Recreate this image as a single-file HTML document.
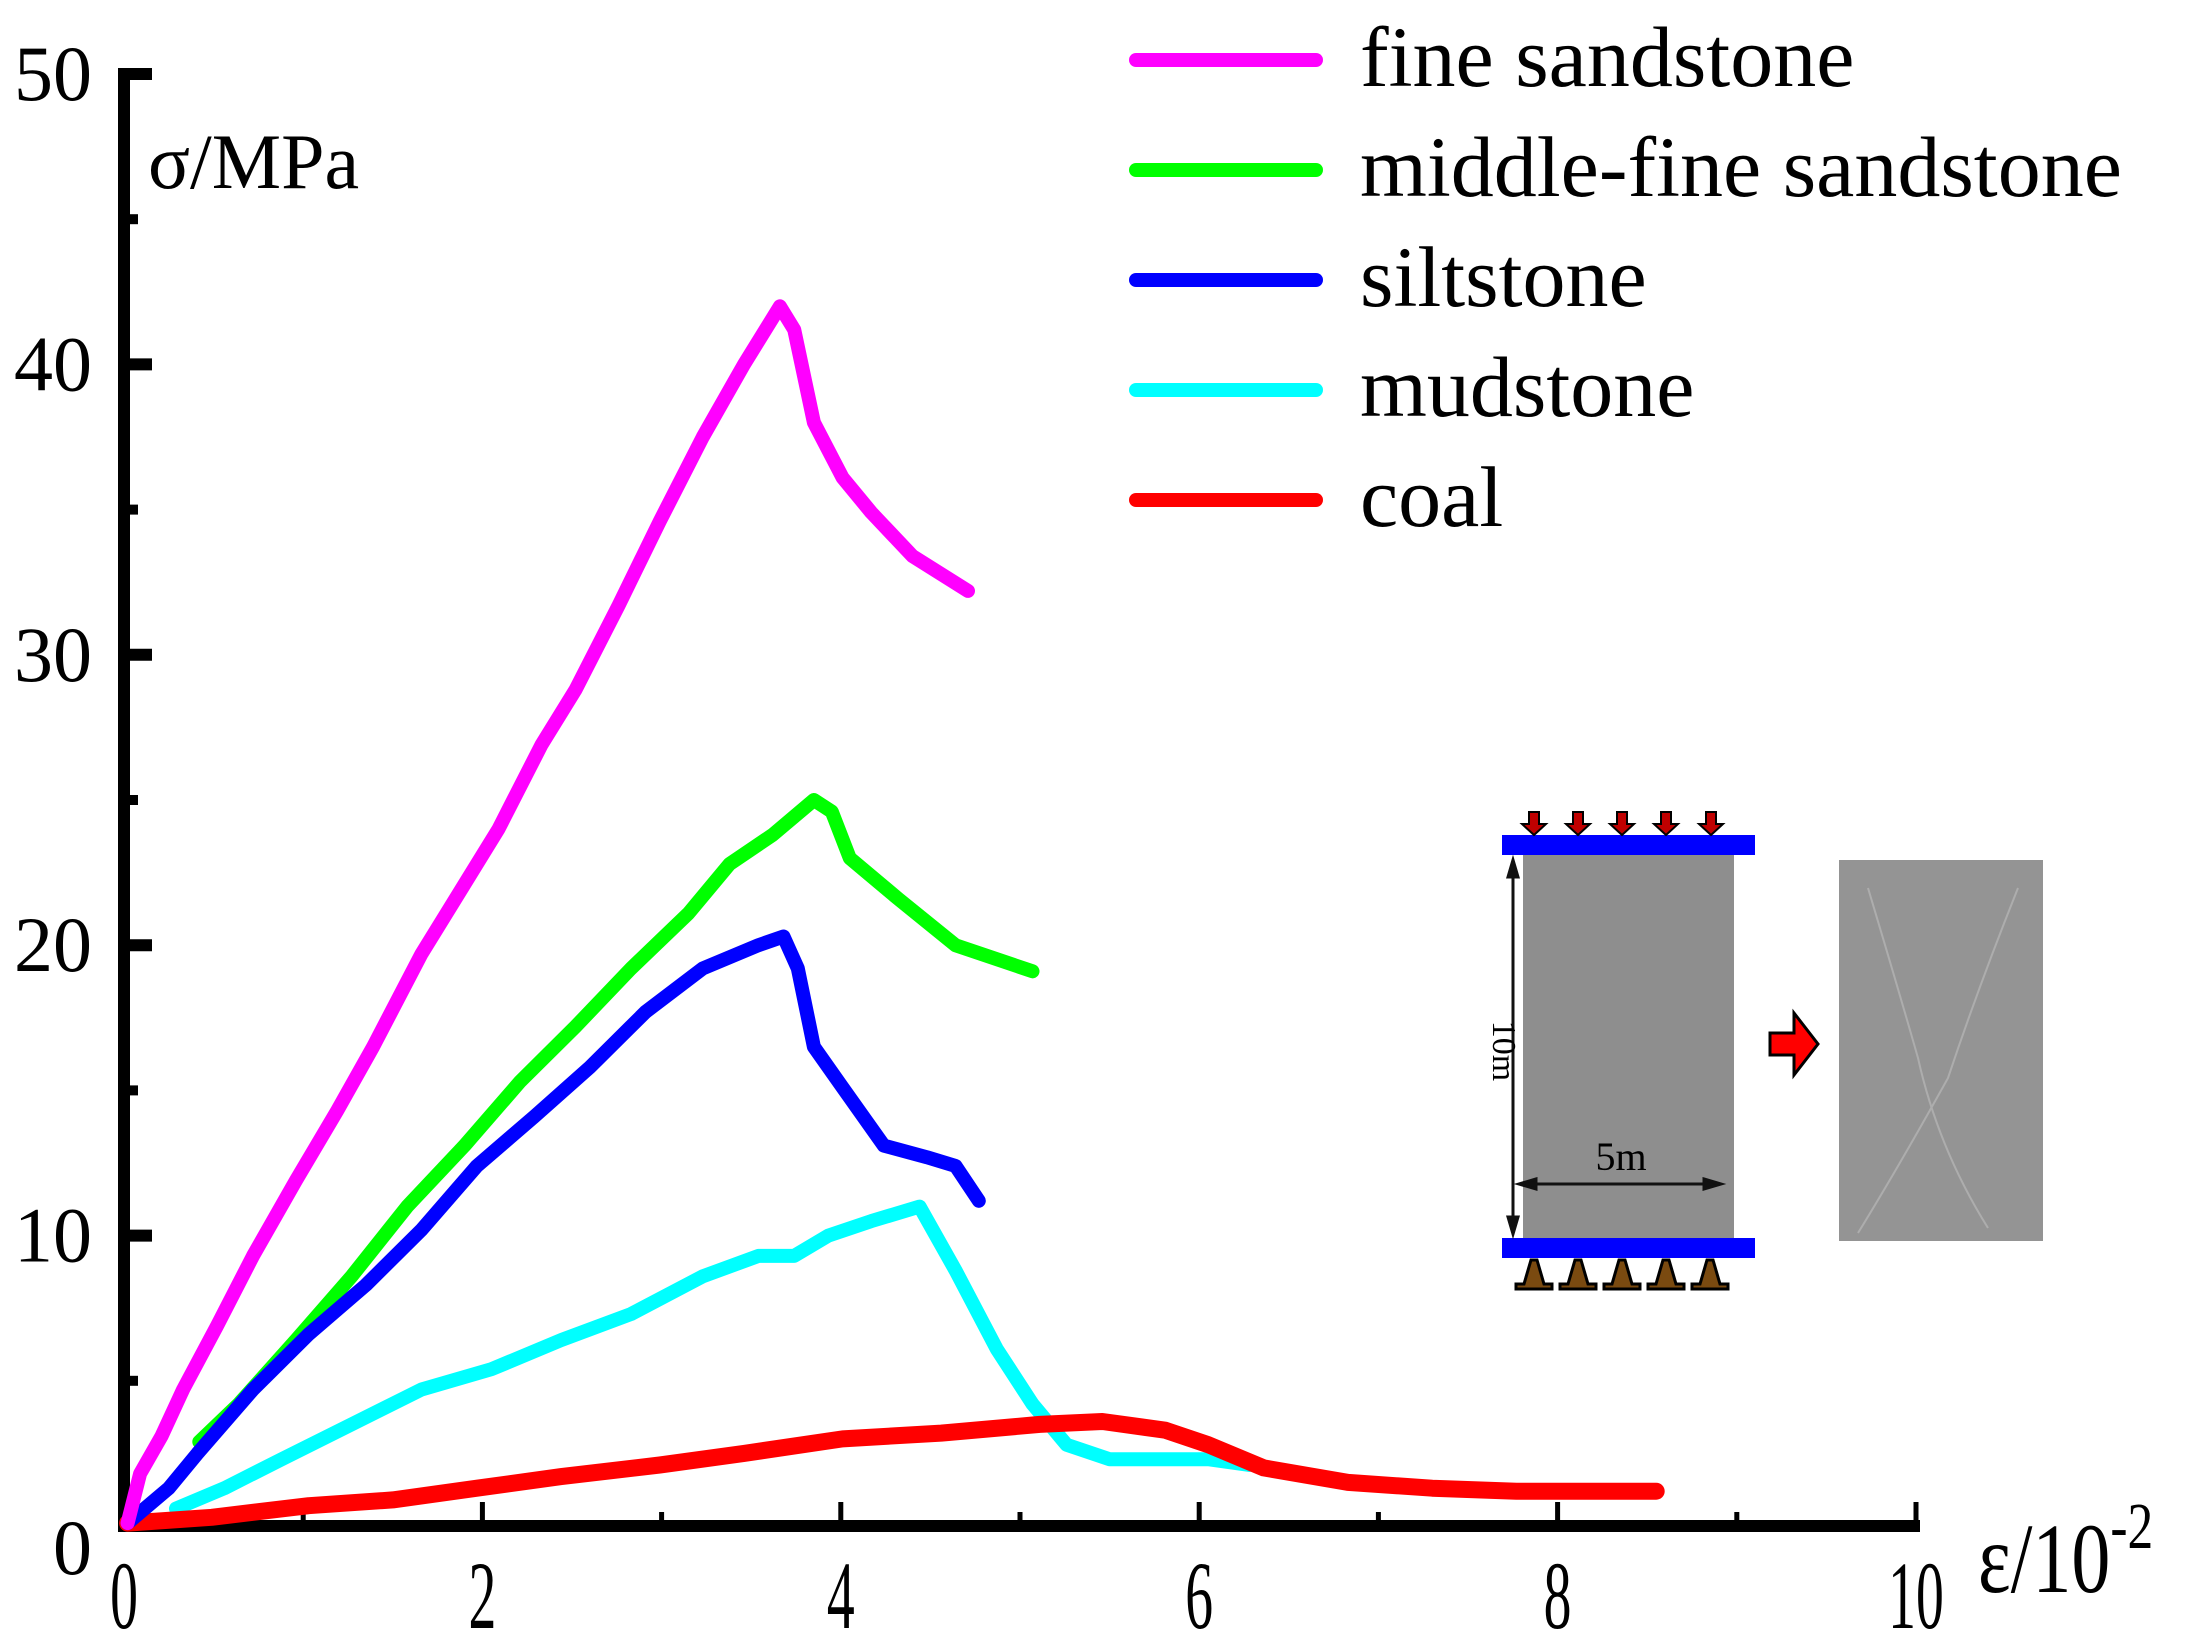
<!DOCTYPE html>
<html><head><meta charset="utf-8"><style>
html,body{margin:0;padding:0;background:#fff;}
svg{display:block;}
text{font-family:"Liberation Serif",serif;fill:#000;}
</style></head><body>
<svg id="chart" width="2190" height="1644" viewBox="0 0 2190 1644" xmlns="http://www.w3.org/2000/svg">
<g id="axes"></g>
<g id="series"></g>
<g id="legend"></g>
<text x="148" y="188" font-size="78">σ/MPa</text>
<text font-size="100" transform="translate(1978 1592) scale(0.78 1)">ε/10<tspan font-size="66" dy="-44">-2</tspan></text>
<g transform="translate(-7 -2)">
  <rect x="1530" y="857" width="211" height="383" fill="#8e8e8e"/>
  <rect x="1509" y="837" width="253" height="20" fill="#0000ff"/>
  <rect x="1509" y="1240" width="253" height="20" fill="#0000ff"/>
  <g fill="#c00000" stroke="#000" stroke-width="2">
    <path d="M1536 814h10v12h7l-12 11l-12-11h7z"/>
    <path d="M1580 814h10v12h7l-12 11l-12-11h7z"/>
    <path d="M1624 814h10v12h7l-12 11l-12-11h7z"/>
    <path d="M1668 814h10v12h7l-12 11l-12-11h7z"/>
    <path d="M1713 814h10v12h7l-12 11l-12-11h7z"/>
  </g>
  <g fill="#7a4a10" stroke="#000" stroke-width="3">
    <path d="M1538 1262h6l7 24h8v5h-36v-5h8z"/>
    <path d="M1582 1262h6l7 24h8v5h-36v-5h8z"/>
    <path d="M1626 1262h6l7 24h8v5h-36v-5h8z"/>
    <path d="M1670 1262h6l7 24h8v5h-36v-5h8z"/>
    <path d="M1714 1262h6l7 24h8v5h-36v-5h8z"/>
  </g>
  <g stroke="#111" stroke-width="3" fill="#111">
    <line x1="1520" y1="862" x2="1520" y2="1236"/>
    <path d="M1515 879l5-17l5 17z"/><path d="M1515 1219l5 17l5-17z"/>
    <line x1="1526" y1="1186" x2="1728" y2="1186"/>
    <path d="M1543 1181l-17 5l17 5z"/><path d="M1711 1181l17 5l-17 5z"/>
  </g>
  <text font-size="34" transform="translate(1500 1053) rotate(90)" text-anchor="middle" fill="#222">10m</text>
  <text x="1628" y="1172" font-size="40" text-anchor="middle" fill="#222">5m</text>
  <path d="M1777 1035h24v-20l24 31l-24 31v-20h-24z" fill="#ff0000" stroke="#000" stroke-width="3"/>
  <rect x="1846" y="862" width="204" height="381" fill="#949494"/>
  <g stroke="#b8b8b8" stroke-width="2" fill="none" opacity="0.7">
    <path d="M1875 890 Q1905 990 1925 1060 Q1945 1150 1995 1230"/>
    <path d="M2025 890 Q1985 990 1955 1080 Q1905 1170 1865 1235"/>
  </g>
</g>
<script>
const xTicks=[0,2,4,6,8,10];
const xMinor=[1,3,5,7,9];
const yTicks=[0,10,20,30,40,50];
const yMinor=[5,15,25,35,45];
const seriesNames=["fine sandstone","middle-fine sandstone","siltstone","mudstone","coal"];
const seriesColors=["#ff00ff","#00ff00","#0000ff","#00ffff","#ff0000"];
const fineX=[0.02,0.09,0.21,0.33,0.52,0.72,0.96,1.19,1.39,1.66,1.90,2.09,2.33,2.52,2.76,2.99,3.23,3.46,3.66,3.74,3.85,4.01,4.17,4.40,4.71];
const fineY=[0.1,1.8,3.1,4.7,6.9,9.3,11.9,14.3,16.5,19.7,22.1,24.0,26.9,28.8,31.7,34.6,37.5,40.0,42.0,41.2,38.0,36.1,34.9,33.4,32.2];
const midX=[0.42,0.64,0.96,1.27,1.58,1.90,2.21,2.52,2.83,3.15,3.38,3.62,3.85,3.95,4.05,4.32,4.64,5.07];
const midY=[2.9,4.2,6.4,8.6,11.0,13.1,15.3,17.2,19.2,21.1,22.8,23.8,25.0,24.6,23.0,21.6,20.0,19.1];
const siltX=[0.02,0.25,0.41,0.72,1.03,1.35,1.66,1.97,2.29,2.60,2.91,3.23,3.54,3.68,3.76,3.85,4.01,4.24,4.48,4.64,4.77];
const siltY=[0.1,1.3,2.5,4.7,6.6,8.3,10.2,12.4,14.1,15.8,17.7,19.2,20.0,20.3,19.2,16.5,15.1,13.1,12.7,12.4,11.2];
const mudX=[0.29,0.56,0.88,1.27,1.66,2.05,2.44,2.83,3.23,3.54,3.74,3.93,4.17,4.44,4.64,4.87,5.07,5.26,5.50,5.81,6.05,6.28];
const mudY=[0.6,1.3,2.3,3.5,4.7,5.4,6.4,7.3,8.6,9.3,9.3,10.0,10.5,11.0,8.8,6.1,4.2,2.8,2.3,2.3,2.3,2.1];
const coalX=[0.02,0.49,1.03,1.50,1.97,2.44,2.99,3.46,4.01,4.56,5.11,5.46,5.81,6.05,6.36,6.83,7.30,7.77,8.32,8.55];
const coalY=[0.1,0.3,0.7,0.9,1.3,1.7,2.1,2.5,3.0,3.2,3.5,3.6,3.3,2.8,2.0,1.5,1.3,1.2,1.2,1.2];

const NS="http://www.w3.org/2000/svg";
function xs(v){return 124+v*179.2;}
function ys(v){return 1526-v*29.04;}
function mk(tag,attrs,parent){const e=document.createElementNS(NS,tag);for(const k in attrs)e.setAttribute(k,attrs[k]);parent.appendChild(e);return e;}
const axes=document.getElementById('axes');
let e=mk('line',{x1:xs(0),y1:ys(50)-6,x2:xs(0),y2:ys(0)+6,stroke:'#000','stroke-width':12},axes);


e=mk('line',{x1:xs(0)-6,y1:ys(0),x2:xs(10)+4,y2:ys(0),stroke:'#000','stroke-width':12},axes);


xTicks.forEach(v=>{
  const t=mk('line',{x1:xs(v),y1:ys(0),x2:xs(v),y2:ys(0)-24,stroke:'#000','stroke-width':5},axes);
  
  
  const l=mk('text',{x:0,y:0,'font-size':96,'text-anchor':'middle',transform:`translate(${xs(v)} 1628) scale(0.58 1)`},axes);
  l.textContent=v;
  
  
});
xMinor.forEach(v=>{
  const t=mk('line',{x1:xs(v),y1:ys(0),x2:xs(v),y2:ys(0)-14,stroke:'#000','stroke-width':5},axes);
  
  
});
yTicks.forEach(v=>{
  const t=mk('line',{x1:xs(0),y1:ys(v),x2:xs(0)+28,y2:ys(v),stroke:'#000','stroke-width':12},axes);
  
  
  const l=mk('text',{x:92,y:ys(v)+(v===0?48:26),'font-size':78,'text-anchor':'end'},axes);
  l.textContent=v;
  
  
});
yMinor.forEach(v=>{
  const t=mk('line',{x1:xs(0),y1:ys(v),x2:xs(0)+14,y2:ys(v),stroke:'#000','stroke-width':10},axes);
  
  
});
const seriesG=document.getElementById('series');
const allX=[fineX,midX,siltX,mudX,coalX], allY=[fineY,midY,siltY,mudY,coalY];
const drawOrder=[3,4,1,2,0];
const slugs=['fine-sandstone','middle-fine-sandstone','siltstone','mudstone','coal'];
drawOrder.forEach(i=>{
  const d=allX[i].map((x,j)=>(j?'L':'M')+xs(x).toFixed(1)+' '+ys(allY[i][j]).toFixed(1)).join(' ');
  const p=mk('path',{d:d,fill:'none',stroke:seriesColors[i],'stroke-width':i===4?17:14,'stroke-linejoin':'round','stroke-linecap':'round'},seriesG);
  
  
});
const leg=document.getElementById('legend');
seriesNames.forEach((n,i)=>{
  const cy=60+i*110;
  const l=mk('line',{x1:1136,y1:cy,x2:1316,y2:cy,stroke:seriesColors[i],'stroke-width':14,'stroke-linecap':'round'},leg);
  
  
  const t=mk('text',{x:1360,y:cy+26,'font-size':86},leg);
  t.textContent=n;
  
  
});
</script>
</svg>
</body></html>
